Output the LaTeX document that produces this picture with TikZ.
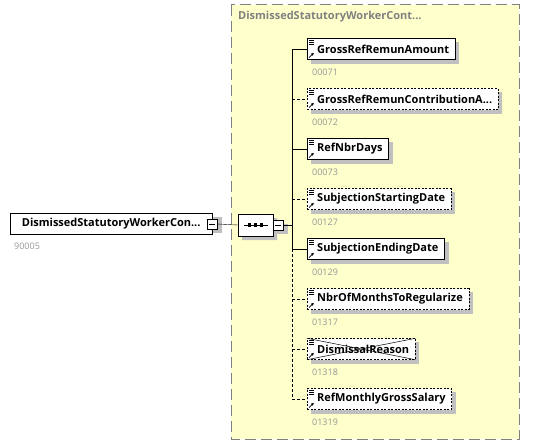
\documentclass[tikz,border=0pt]{standalone}
\usepackage{fontspec}
\setmainfont{Open Sans}
\usetikzlibrary{shapes.misc,arrows.meta}

\definecolor{groupyellow}{RGB}{255,255,204}
\definecolor{groupgray}{RGB}{128,128,128}
\definecolor{shadowgray}{RGB}{192,192,192}
\definecolor{idgray}{RGB}{150,150,150}

\pgfdeclarelayer{groupback}
\pgfdeclarelayer{shade}
\pgfsetlayers{groupback,shade,main}

\newcommand{\trunc}{...}

\tikzset{
    elembase/.style={draw, fill=white, minimum height=21pt, inner ysep=0pt,
        font=\fontsize{11}{13}\selectfont\bfseries},
    elem/.style={elembase, anchor=west, inner xsep=6pt, execute at begin node=\hspace*{4pt}},
    optelem/.style={elem, dash pattern=on 2pt off 1.5pt},
    mainelem/.style={elembase, anchor=west, minimum width=202pt, inner xsep=0pt},
    minusbox/.style={draw, fill=white, minimum size=10pt, inner sep=0pt},
    seq/.style={draw, fill=white, chamfered rectangle, chamfered rectangle xsep=6pt,
        chamfered rectangle ysep=7pt, minimum width=35pt, minimum height=22pt, inner sep=0pt},
    idlabel/.style={anchor=west, inner sep=0pt, text=idgray, font=\fontsize{9}{11}\selectfont},
    conndash/.style={dash pattern=on 3pt off 2pt},
    icon/.style={line width=0.7pt},
    shadowbox/.style={fill=shadowgray, draw=none},
}

\begin{document}
\begin{tikzpicture}[x=1pt, y=-1pt, line width=0.8pt]
    \useasboundingbox (0,0) rectangle (533,444);

    \begin{pgfonlayer}{groupback}
        \draw[groupgray, fill=groupyellow, line width=1pt, dash pattern=on 11pt off 5pt] (231,5) rectangle (519,439);
    \end{pgfonlayer}
    \node[anchor=west, inner sep=0pt, text=groupgray, font=\fontsize{11}{13}\selectfont\bfseries] (title) at (238,17) {DismissedStatutoryWorkerCont\trunc};

    \node[mainelem] (main) at (10,224) {DismissedStatutoryWorkerCon\trunc};
    \node[minusbox] (mainminus) at (main.east) {\rule{6pt}{0.8pt}};
    \node[idlabel] (mainid) at ([shift={(4,12)}]main.south west) {90005};

    \node[seq] (seq) at (255.5,225) {};
    \node[minusbox, anchor=west] (seqminus) at (seq.east) {\rule{6pt}{0.8pt}};
    \draw ([xshift=-12pt]seq.center) -- ([xshift=12pt]seq.center);
    \foreach \d in {-6,0,6}
        \fill ([xshift=\d pt]seq.center) +(-1.6,-1.6) rectangle +(1.6,1.6);

    \draw (mainminus.east) -- (seq.west);

    \coordinate (bus) at (292,225);
    \coordinate (bustop) at (292,49);
    \coordinate (busmid) at (292,249);
    \coordinate (busend) at (292,399);
    \draw (seqminus.east) -- (bus);
    \draw (bustop) -- (busmid);
    \draw[conndash] (busmid) -- (busend);

    \foreach \y/\n/\id/\kind/\ls [count=\i] in {
        49/GrossRefRemunAmount/00071/elem/solid,
        99/GrossRefRemunContributionA\trunc/00072/optelem/conndash,
        149/RefNbrDays/00073/elem/solid,
        199/SubjectionStartingDate/00127/optelem/conndash,
        249/SubjectionEndingDate/00129/elem/solid,
        299/NbrOfMonthsToRegularize/01317/optelem/conndash,
        349/DismissalReason/01318/optelem/conndash,
        399/RefMonthlyGrossSalary/01319/optelem/conndash}{
        \node[\kind] (e\i) at (307,\y) {\n};
        \node[idlabel] (id\i) at ([shift={(5,12.5)}]e\i.south west) {\id};
        \draw[\ls] (e\i.west -| bus) -- (e\i.west);
        \draw[icon] ([shift={(2,2)}]e\i.north west) -- ++(5,0)
                    ([shift={(2,4)}]e\i.north west) -- ++(5,0)
                    ([shift={(2,6)}]e\i.north west) -- ++(5,0);
        \draw[icon, -{Latex[length=3pt,width=3pt]}] ([shift={(2,-2)}]e\i.south west) -- ++(5,-5);
        \begin{pgfonlayer}{shade}
            \fill[shadowbox] ([shift={(4,4)}]e\i.north west) rectangle ([shift={(4,4)}]e\i.south east);
        \end{pgfonlayer}
    }

    \draw[line width=0.5pt] (e7.north west) -- (e7.south east)
                            (e7.south west) -- (e7.north east);

    \begin{pgfonlayer}{shade}
        \fill[shadowbox] ([shift={(4,4)}]main.north west) rectangle ([shift={(4,4)}]mainminus.south east);
        \fill[shadowbox] ([shift={(4,4)}]seqminus.north west) rectangle ([shift={(4,4)}]seqminus.south east);
        \node[seq, shadowbox] (seqshade) at ([shift={(4,4)}]seq.center) {};
    \end{pgfonlayer}
\end{tikzpicture}
\end{document}
